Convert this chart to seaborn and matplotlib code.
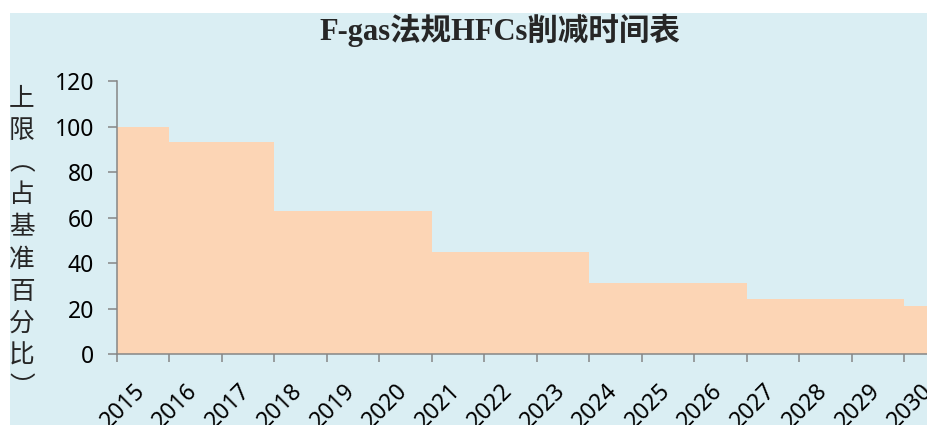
import numpy as np
import pandas as pd
import seaborn as sns
import matplotlib.pyplot as plt
from matplotlib.patches import Rectangle
from matplotlib.ticker import FixedLocator
import matplotlib.transforms as mtransforms

sns.set_style("white")
plt.rcParams['font.family'] = ['Noto Sans', 'Noto Sans CJK SC', 'DejaVu Sans']

# HFC quota (% of baseline) per year
years = [str(y) for y in range(2015, 2031)]
quota = [100, 93, 93, 63, 63, 63, 45, 45, 45, 31, 31, 31, 24, 24, 24, 21]
title = "F-gas法规HFCs削减时间表"
ylabel = "上\n限\n︵\n占\n基\n准\n百\n分\n比\n︶"

df = pd.DataFrame({"year": years, "quota": quota})

bg = "#DAEEF3"
bar_color = "#FCD5B5"
axis_gray = "#868686"

fig = plt.figure(figsize=(9.28, 4.25), dpi=100)
fig.patch.set_facecolor("white")
fig.add_artist(Rectangle((10 / 928, 0), 1, 1 - 13 / 425, transform=fig.transFigure,
                         facecolor=bg, edgecolor="none", zorder=-10))

# plot area runs past the right edge of the figure, like the source
ax = fig.add_axes([117 / 928, 71 / 425, 840 / 928, 273 / 425])
ax.set_facecolor(bg)
ax.patch.set_alpha(0)

sns.barplot(data=df, x="year", y="quota", color=bar_color, saturation=1,
            width=1, linewidth=0, edgecolor="none", ax=ax)

ax.set_xlim(-0.5, len(years) - 0.5)
ax.set_ylim(0, 120)
ax.set_yticks(np.arange(0, 121, 20))
ax.set_xlabel("")
ax.set_ylabel("")

for s in ["top", "right"]:
    ax.spines[s].set_visible(False)
for s in ["left", "bottom"]:
    ax.spines[s].set_color(axis_gray)
    ax.spines[s].set_linewidth(1.1)

ax.tick_params(axis="y", which="major", direction="out", length=6.5, width=1.1,
               color=axis_gray, pad=10, labelsize=16.5, labelcolor="black", left=True)
# category boundaries get the tick marks, labels sit between them
ax.xaxis.set_minor_locator(FixedLocator(np.arange(len(years)) - 0.5))
ax.tick_params(axis="x", which="minor", direction="out", length=6, width=1.1,
               color=axis_gray, bottom=True)
ax.tick_params(axis="x", which="major", length=0, pad=18, labelsize=16.5, labelcolor="black")

offset = mtransforms.ScaledTranslation(7 / 100, 0, fig.dpi_scale_trans)
for lab in ax.get_xticklabels():
    lab.set_rotation(45)
    lab.set_ha("right")
    lab.set_transform(lab.get_transform() + offset)

fig.text(500 / 928, 1 - 30 / 425, title, ha="center", va="center", fontsize=22,
         fontweight="bold", family=["Liberation Serif", "Noto Sans CJK SC"])
fig.text(22 / 928, 1 - 244 / 425, ylabel, ha="center", va="center", fontsize=18.5,
         linespacing=1.37)

fig.savefig("out.png", dpi=100, facecolor=fig.get_facecolor())
